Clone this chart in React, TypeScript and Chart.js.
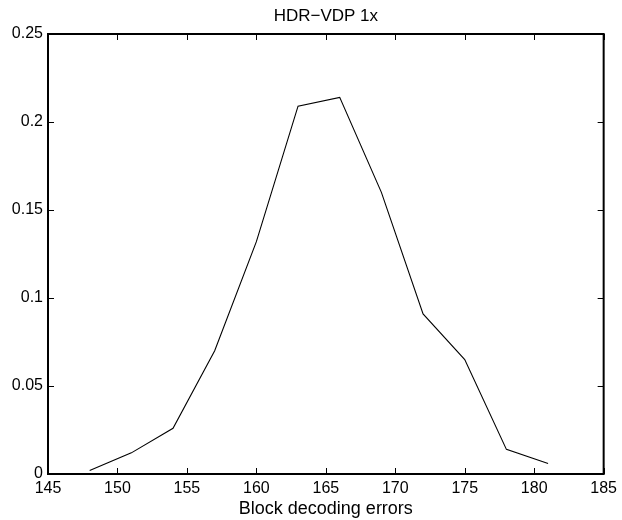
import React, { useEffect, useRef } from "react";
import { Chart, registerables } from "chart.js";

Chart.register(...registerables);

const titleText = "HDR\u2212VDP 1x";
const xAxisLabel = "Block decoding errors";
const errorCounts = [148, 151, 154, 157, 160, 163, 166, 169, 172, 175, 178, 181];
const frequencies = [0.002, 0.012, 0.026, 0.07, 0.132, 0.209, 0.214, 0.16, 0.091, 0.065, 0.014, 0.006];
const xTicks = [145, 150, 155, 160, 165, 170, 175, 180, 185];
const xTickLabels = ["145", "150", "155", "160", "165", "170", "175", "180", "185"];
const yTicks = [0, 0.05, 0.1, 0.15, 0.2, 0.25];
const yTickLabels = ["0", "0.05", "0.1", "0.15", "0.2", "0.25"];

const FONT = "'Liberation Sans', Arial, Helvetica, sans-serif";

const boxPlugin = {
  id: "matlabBox",
  afterDraw(chart: any) {
    const { ctx, chartArea } = chart;
    const { left, right, top, bottom } = chartArea;
    const xs = chart.scales.x;
    const ys = chart.scales.y;
    const tl = 6;
    ctx.save();
    ctx.strokeStyle = "#000";
    ctx.lineWidth = 1;
    ctx.beginPath();
    xTicks.forEach((v) => {
      const px = Math.round(xs.getPixelForValue(v)) + 0.5;
      ctx.moveTo(px, bottom);
      ctx.lineTo(px, bottom - tl);
      ctx.moveTo(px, top);
      ctx.lineTo(px, top + tl);
    });
    yTicks.forEach((v) => {
      const py = Math.round(ys.getPixelForValue(v)) + 0.5;
      ctx.moveTo(left, py);
      ctx.lineTo(left + tl, py);
      ctx.moveTo(right, py);
      ctx.lineTo(right - tl, py);
    });
    ctx.stroke();
    ctx.lineWidth = 2;
    ctx.strokeRect(left, top, right - left, bottom - top);
    // title centred over the plot area, MATLAB style
    ctx.fillStyle = "#000";
    ctx.font = "17px " + FONT;
    ctx.textAlign = "center";
    ctx.textBaseline = "alphabetic";
    ctx.fillText(titleText, (left + right) / 2, 21);
    ctx.restore();
  },
};

export default function App() {
  const ref = useRef<HTMLCanvasElement | null>(null);
  useEffect(() => {
    if (!ref.current) return;
    const chart = new Chart(ref.current, {
      type: "line",
      data: {
        datasets: [
          {
            data: errorCounts.map((x, i) => ({ x, y: frequencies[i] })),
            borderColor: "#000",
            borderWidth: 1.1,
            pointRadius: 0,
            fill: false,
            tension: 0,
          },
        ],
      },
      options: {
        animation: false,
        responsive: false,
        maintainAspectRatio: false,
        layout: { padding: { left: 0, right: 16, top: 34, bottom: 0 } },
        plugins: {
          legend: { display: false },
          tooltip: { enabled: false },
          title: { display: false },
        },
        scales: {
          x: {
            type: "linear",
            min: 145,
            max: 185,
            afterBuildTicks: (s: any) => {
              s.ticks = xTicks.map((v) => ({ value: v }));
            },
            afterFit: (s: any) => {
              s.height = 46;
            },
            ticks: {
              color: "#000",
              padding: 5,
              maxRotation: 0,
              autoSkip: false,
              font: { family: FONT, size: 16 },
              callback: (v: any) => xTickLabels[xTicks.indexOf(Number(v))] ?? "",
            },
            grid: { display: false, drawTicks: false },
            border: { display: false },
            title: {
              display: true,
              text: xAxisLabel,
              color: "#000",
              font: { family: FONT, size: 18 },
              padding: { top: 0, bottom: 0 },
            },
          },
          y: {
            type: "linear",
            min: 0,
            max: 0.25,
            afterBuildTicks: (s: any) => {
              s.ticks = yTicks.map((v) => ({ value: v }));
            },
            afterFit: (s: any) => {
              s.width = 48;
            },
            ticks: {
              color: "#000",
              padding: 5,
              autoSkip: false,
              font: { family: FONT, size: 16 },
              callback: (v: any) => {
                const i = yTicks.findIndex((t) => Math.abs(t - Number(v)) < 1e-9);
                return i >= 0 ? yTickLabels[i] : "";
              },
            },
            grid: { display: false, drawTicks: false },
            border: { display: false },
          },
        },
      },
      plugins: [boxPlugin],
    });
    return () => chart.destroy();
  }, []);
  return (
    <div style={{ position: "fixed", left: 0, top: 0, width: 622, height: 520, background: "#fff" }}>
      <canvas ref={ref} width={622} height={520} style={{ display: "block", width: 622, height: 520 }} />
    </div>
  );
}
